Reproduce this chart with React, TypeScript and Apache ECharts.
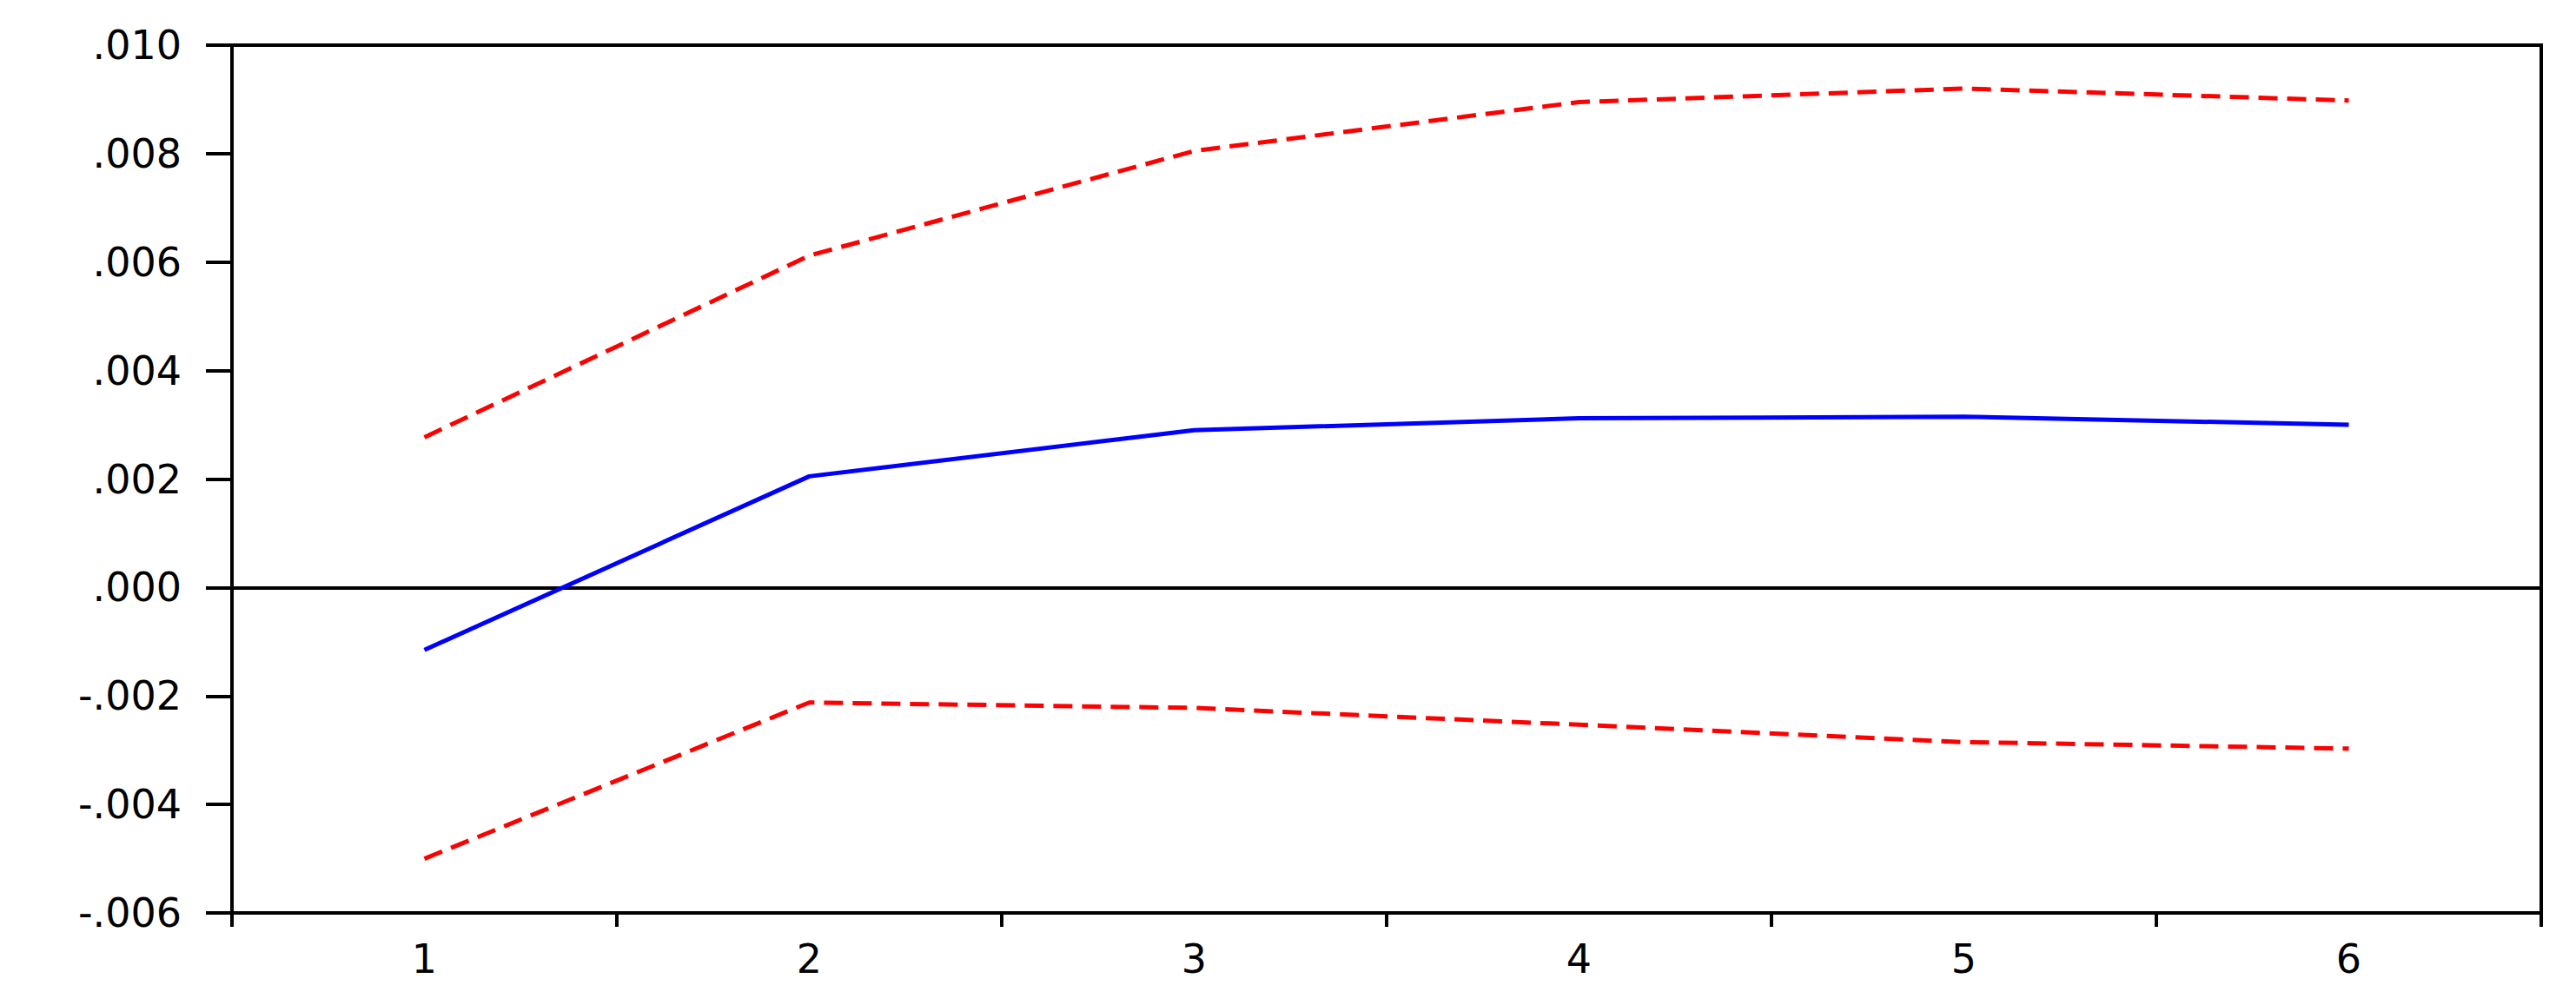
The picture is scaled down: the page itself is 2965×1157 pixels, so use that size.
import React, { useEffect, useRef } from "react";
import * as echarts from "echarts";

const periods = ["1", "2", "3", "4", "5", "6"];
const response = [-0.00115, 0.00205, 0.0029, 0.00312, 0.00315, 0.0030];
const upperBand = [0.00277, 0.00612, 0.00805, 0.00895, 0.0092, 0.00898];
const lowerBand = [-0.005, -0.00212, -0.00222, -0.00253, -0.00285, -0.00297];
const yMin = -0.006;
const yMax = 0.01;
const yStep = 0.002;

function fmt(v: number): string {
  const s = Number(v).toFixed(3);
  return s.replace("0.", ".");
}

export default function App() {
  const ref = useRef<HTMLDivElement>(null);
  useEffect(() => {
    if (!ref.current) return;
    const chart = echarts.init(ref.current, null, { renderer: "svg" });
    const labelFont = {
      color: "#000",
      fontFamily: "DejaVu Sans, Arial, sans-serif",
      fontSize: 46,
    };
    chart.setOption({
      animation: false,
      backgroundColor: "#ffffff",
      grid: {
        left: 267,
        right: 40,
        top: 52,
        bottom: 106,
        show: true,
        borderColor: "#000",
        borderWidth: 4,
      },
      xAxis: {
        type: "category",
        data: periods,
        boundaryGap: true,
        axisLine: { show: true, onZero: false, lineStyle: { color: "#000", width: 4 } },
        axisTick: { show: true, length: 16, alignWithLabel: false, lineStyle: { color: "#000", width: 4 } },
        axisLabel: { ...labelFont, margin: 30 },
        splitLine: { show: false },
      },
      yAxis: {
        type: "value",
        min: yMin,
        max: yMax,
        interval: yStep,
        axisLine: { show: true, lineStyle: { color: "#000", width: 4 } },
        axisTick: { show: true, length: 30, lineStyle: { color: "#000", width: 4 } },
        axisLabel: { ...labelFont, margin: 58, formatter: (v: number) => fmt(v) },
        splitLine: { show: false },
      },
      series: [
        {
          type: "line",
          data: upperBand,
          showSymbol: false,
          symbol: "none",
          lineStyle: { color: "#ff0000", width: 5, type: [22, 11] },
          z: 3,
        },
        {
          type: "line",
          data: lowerBand,
          showSymbol: false,
          symbol: "none",
          lineStyle: { color: "#ff0000", width: 5, type: [22, 11] },
          z: 3,
        },
        {
          type: "line",
          data: response,
          showSymbol: false,
          symbol: "none",
          lineStyle: { color: "#0000ff", width: 5, type: "solid" },
          z: 4,
          markLine: {
            silent: true,
            symbol: "none",
            label: { show: false },
            lineStyle: { color: "#000", width: 4, type: "solid" },
            data: [{ yAxis: 0 }],
            z: 2,
          },
        },
      ],
    });
    return () => chart.dispose();
  }, []);
  return (
    <div
      ref={ref}
      style={{ position: "absolute", left: 0, top: 0, width: 2965, height: 1157, background: "#fff" }}
    />
  );
}
